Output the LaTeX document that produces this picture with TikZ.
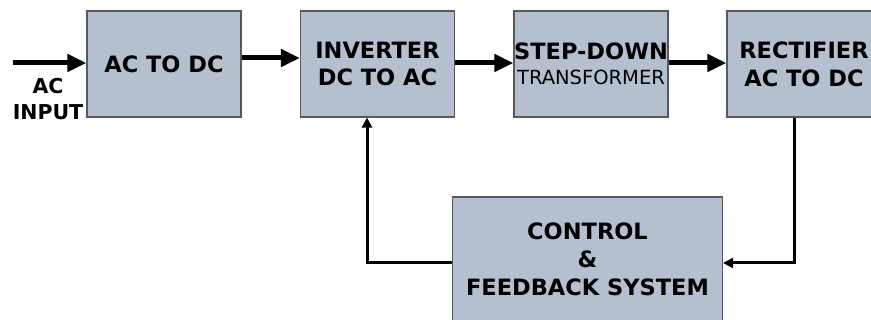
\documentclass[tikz,border=0pt]{standalone}
\usepackage{fontspec}
\setmainfont{DejaVu Sans}
\usetikzlibrary{arrows.meta}

\begin{document}
\begin{tikzpicture}[x=1pt,y=-1pt,
    block/.style={draw=black!65,line width=1.2pt,fill=blockfill,inner sep=0pt,
                  minimum width=154pt,minimum height=106pt,align=center,
                  font=\fontsize{22.5}{27.7}\selectfont\bfseries},
    mainarrow/.style={line width=5pt,-{Triangle[length=19pt,width=17pt]}},
    fbarrow/.style={line width=3pt,-{Triangle[length=10pt,width=10pt]}}]
    \definecolor{blockfill}{RGB}{180,192,207}
    \useasboundingbox (0,0) rectangle (871,320);
    % blocks
    \node [block] (acdc) at (164,64) {AC TO DC};
    \node [block] (inv) at (377.5,64) {INVERTER\\DC TO AC};
    \node [block,font=\fontsize{22.5}{25}\selectfont\bfseries] (stepdown) at (591,64)
        {STEP-DOWN\\{\mdseries\fontsize{19.5}{25}\selectfont TRANSFORMER}};
    \node [block] (rect) at (804,64) {RECTIFIER\\AC TO DC};
    \node [block,minimum width=270pt,minimum height=125pt] (ctrl) at (587.5,259.5)
        {CONTROL\\\&\\FEEDBACK SYSTEM};
    \node [align=center,inner sep=0pt,font=\fontsize{20.5}{26.5}\selectfont\bfseries] (acin) at (48,99) {AC\\INPUT};
    % forward path
    \coordinate (inp) at (13,63);
    \draw [mainarrow] (inp) -- (inp -| acdc.west);
    \draw [mainarrow] ([yshift=6pt]acdc.east) -- ([yshift=6pt]inv.west);
    \draw [mainarrow] ([yshift=1pt]inv.east) -- ([yshift=1pt]stepdown.west);
    \draw [mainarrow] ([yshift=1pt]stepdown.east) -- ([yshift=1pt]rect.west);
    % feedback loop
    \coordinate (fbright) at (794,263);
    \coordinate (fbleft) at (367,263);
    \draw [fbarrow] (rect.south -| fbright) -- (fbright) -- (fbright -| ctrl.east);
    \draw [fbarrow] (fbleft -| ctrl.west) -- (fbleft) -- (fbleft |- inv.south);
\end{tikzpicture}
\end{document}
